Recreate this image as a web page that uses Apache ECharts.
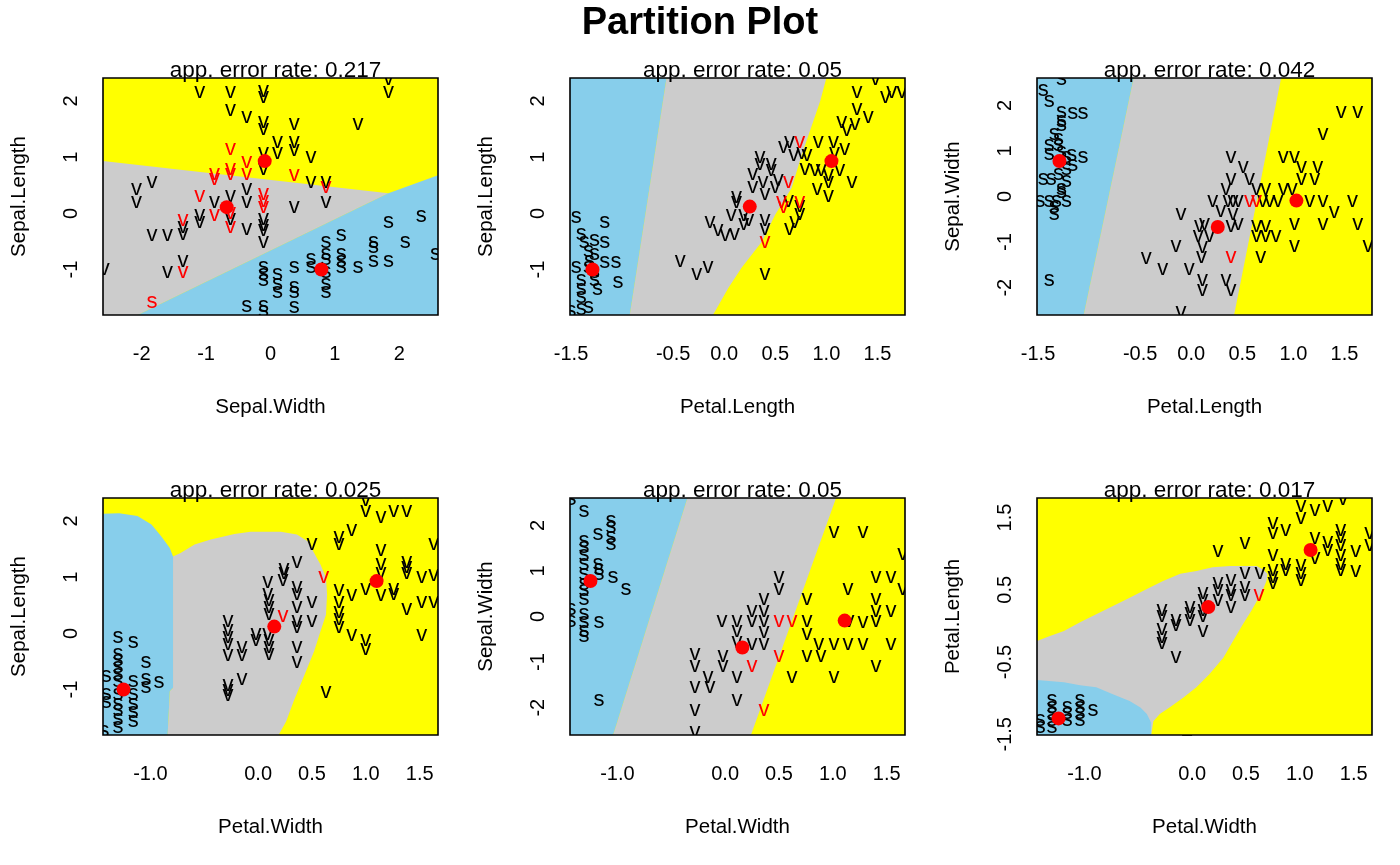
<!DOCTYPE html>
<html><head><meta charset="utf-8">
<script src="https://cdn.jsdelivr.net/npm/echarts@6/dist/echarts.min.js"></script>
<style>html,body{margin:0;padding:0;background:#fff}#c{width:1400px;height:865px}</style>
</head><body><div id="c"></div><script>
// ---------- tick labels ----------
const swTicks=[-2,-1,0,1,2], swLabels=['-2','-1','0','1','2'];
const slTicks=[-1,0,1,2], slLabels=['-1','0','1','2'];
const plTicks=[-1.5,-1,-0.5,0,0.5,1,1.5];
const plLabelsX=['-1.5','','-0.5','0.0','0.5','1.0','1.5'];
const plLabelsY=['-1.5','','-0.5','','0.5','','1.5'];
const pwTicks=[-1,-0.5,0,0.5,1,1.5], pwLabels=['-1.0','','0.0','0.5','1.0','1.5'];
const errorRates=['0.217','0.05','0.042','0.025','0.05','0.017'];

// ---------- panel 1: Sepal.Width x Sepal.Length ----------
const p1V=[[-1.10,2.14],[-0.62,2.14],[-0.11,2.17],[-0.11,2.06],[1.83,2.38],[1.83,2.14],[-0.62,1.82],[-0.37,1.70],[-0.11,1.61],[-0.11,1.49],[0.37,1.58],[1.36,1.58],[0.11,1.25],[0.11,1.05],[0.37,1.25],[0.37,1.11],[0.63,0.99],[-0.11,0.78],[-0.11,1.05],[0.63,0.54],[0.86,0.54],[0.86,0.18],[0.37,0.10],[-2.08,0.42],[-2.08,0.18],[-1.84,0.54],[-0.87,0.18],[-0.62,0.30],[-0.62,-0.11],[-0.37,0.42],[-0.37,0.18],[-0.37,-0.29],[-0.11,-0.11],[-0.11,-0.23],[-0.11,-0.32],[-0.11,-0.53],[-1.10,-0.05],[-1.10,-0.17],[-1.36,-0.26],[-1.36,-0.38],[-1.84,-0.41],[-1.60,-0.41],[-1.36,-0.86],[-1.60,-1.06],[-2.58,-1.00]];
const p1VErr=[[-0.62,1.13],[-0.37,0.90],[-0.62,0.78],[-0.62,0.69],[-0.87,0.69],[-0.87,0.60],[-0.37,0.69],[0.37,0.66],[0.86,0.45],[-1.10,0.30],[-0.11,0.33],[-0.11,0.21],[-0.11,0.10],[-0.87,-0.05],[-0.62,-0.01],[-0.62,-0.26],[-1.36,-0.14],[-1.36,-1.06]];
const p1S=[[1.83,-0.17],[2.34,-0.07],[1.10,-0.41],[0.86,-0.53],[0.86,-0.74],[0.86,-0.83],[0.63,-0.83],[1.10,-0.74],[1.10,-0.86],[1.60,-0.53],[1.60,-0.62],[1.60,-0.86],[1.83,-0.86],[2.09,-0.53],[2.56,-0.74],[-0.11,-0.97],[-0.11,-1.09],[-0.11,-1.21],[0.11,-1.09],[0.11,-1.27],[0.11,-1.42],[0.37,-0.97],[0.37,-1.33],[0.37,-1.42],[0.37,-1.69],[0.63,-0.97],[0.86,-1.06],[0.86,-1.27],[0.86,-1.42],[1.10,-0.97],[1.36,-0.97],[-0.37,-1.66],[-0.11,-1.66],[-0.11,-1.75]];
const p1SErr=[[-1.84,-1.60]];
const p1Means=[[-0.09,0.93],[-0.68,0.11],[0.79,-1.00]];
const p1Gray=[[-2.6,0.93],[1.83,0.36],[-2.06,-1.81],[-2.6,-1.81]];
const p1Blue=[[-2.06,-1.81],[1.83,0.36],[2.6,0.68],[2.6,-1.81]];

// ---------- panel 2: Petal.Length x Sepal.Length ----------
const p2S=[[-1.45,-0.08],[-1.17,-0.17],[-1.40,-0.38],[-1.37,-0.53],[-1.27,-0.50],[-1.17,-0.53],[-1.33,-0.68],[-1.27,-0.74],[-1.32,-0.86],[-1.45,-0.97],[-1.33,-0.97],[-1.17,-0.89],[-1.06,-0.89],[-1.27,-1.06],[-1.40,-1.21],[-1.27,-1.21],[-1.04,-1.24],[-1.40,-1.36],[-1.24,-1.36],[-1.40,-1.51],[-1.33,-1.69],[-1.40,-1.72],[-1.50,-1.75]];
const p2V=[[-0.43,-0.86],[-0.27,-1.09],[-0.16,-0.97],[-0.14,-0.17],[-0.06,-0.32],[0.01,-0.41],[0.07,-0.05],[0.10,-0.38],[0.19,-0.05],[0.19,-0.20],[0.24,-0.14],[0.12,0.27],[0.12,0.18],[0.28,0.69],[0.28,0.45],[0.35,0.99],[0.35,0.87],[0.38,0.54],[0.40,0.33],[0.46,0.87],[0.46,0.75],[0.50,0.45],[0.53,0.57],[0.58,1.16],[0.64,1.25],[0.68,1.02],[0.40,-0.14],[0.40,-0.29],[0.40,-1.09],[0.81,1.02],[0.79,0.78],[0.92,1.25],[0.89,0.75],[0.91,0.42],[0.95,0.75],[1.02,0.66],[1.02,0.54],[1.02,0.30],[1.07,1.25],[1.08,1.05],[1.13,0.75],[1.18,1.13],[1.25,0.54],[1.15,1.61],[1.20,1.46],[1.28,1.58],[1.41,1.70],[1.30,1.85],[1.30,2.14],[1.48,2.38],[1.58,2.06],[1.64,2.14],[1.74,2.14],[0.63,0.21],[0.64,-0.29],[0.69,-0.17],[0.74,-0.02],[0.74,0.12],[0.76,1.05]];
const p2VErr=[[0.74,1.25],[0.63,0.54],[0.56,0.18],[0.58,0.10],[0.74,0.18],[0.40,-0.53]];
const p2SErr=[];
const p2Means=[[-1.29,-1.00],[0.25,0.12],[1.05,0.93]];
const p2Blue=[[-1.51,2.41],[-0.565,2.41],[-0.925,-1.81],[-1.51,-1.81]];
const p2Gray=[[-0.565,2.41],[1.00,2.41],[0.94,2.0],[0.76,1.05],[0.66,0.45],[0.50,-0.02],[0.37,-0.50],[0.17,-0.97],[0.04,-1.33],[-0.11,-1.81],[-0.925,-1.81]];

// ---------- panel 3: Petal.Length x Sepal.Width ----------
const p3S=[[-1.27,2.56],[-1.45,2.32],[-1.39,2.08],[-1.27,1.83],[-1.16,1.81],[-1.06,1.81],[-1.27,1.64],[-1.27,1.54],[-1.34,1.35],[-1.30,1.24],[-1.39,1.10],[-1.30,1.10],[-1.39,0.91],[-1.27,0.95],[-1.22,0.84],[-1.17,0.88],[-1.06,0.84],[-1.16,0.66],[-1.22,0.58],[-1.30,0.48],[-1.45,0.37],[-1.37,0.37],[-1.22,0.33],[-1.27,0.15],[-1.27,0.07],[-1.48,-0.11],[-1.39,-0.11],[-1.32,-0.11],[-1.22,-0.11],[-1.34,-0.26],[-1.34,-0.40],[-1.39,-1.86]];
const p3V=[[-0.10,-2.56],[-0.44,-1.37],[-0.28,-1.61],[-0.02,-1.61],[0.10,-1.35],[0.11,-1.13],[0.11,-1.86],[0.11,-2.08],[0.34,-1.86],[0.39,-2.08],[-0.15,-1.10],[-0.10,-0.40],[0.08,-0.66],[0.13,-0.62],[0.07,-0.88],[0.18,-0.88],[0.21,-0.11],[0.29,-0.33],[0.36,-0.11],[0.41,-0.11],[0.46,-0.11],[0.41,-0.40],[0.39,-0.66],[0.46,-0.62],[0.34,0.15],[0.39,0.37],[0.39,0.84],[0.51,0.62],[0.57,0.37],[0.64,0.15],[0.68,-1.35],[0.73,0.15],[0.64,-0.66],[0.73,-0.66],[0.64,-0.88],[0.73,-0.88],[0.83,-0.88],[0.70,-0.11],[0.77,-0.11],[0.85,-0.11],[0.90,0.84],[1.01,0.84],[0.90,0.15],[0.99,0.15],[1.08,0.62],[1.08,0.37],[1.24,0.62],[1.21,0.37],[1.16,-0.11],[1.29,-0.11],[1.58,-0.11],[1.40,-0.37],[1.01,-0.62],[1.29,-0.62],[1.63,-0.62],[1.01,-1.10],[1.73,-1.10],[1.29,1.35],[1.47,1.83],[1.63,1.83]];
const p3VErr=[[0.57,-0.11],[0.64,-0.11],[0.39,-1.35]];
const p3SErr=[];
const p3Means=[[-1.29,0.78],[0.26,-0.67],[1.03,-0.09]];
const p3Blue=[[-1.51,2.6],[-0.564,2.6],[-1.053,-2.6],[-1.51,-2.6]];
const p3Gray=[[-0.564,2.6],[0.88,2.6],[0.42,-2.6],[-1.053,-2.6]];

// ---------- panel 4: Petal.Width x Sepal.Length ----------
const p4S=[[-1.30,-0.08],[-1.16,-0.17],[-1.30,-0.38],[-1.30,-0.50],[-1.04,-0.53],[-1.30,-0.62],[-1.41,-0.77],[-1.30,-0.74],[-1.30,-0.86],[-1.16,-0.86],[-1.04,-0.83],[-1.04,-0.97],[-0.92,-0.89],[-1.41,-1.09],[-1.30,-1.09],[-1.16,-1.09],[-1.41,-1.24],[-1.30,-1.27],[-1.16,-1.27],[-1.30,-1.39],[-1.16,-1.42],[-1.30,-1.54],[-1.16,-1.57],[-1.30,-1.69],[-1.43,-1.75]];
const p4V=[[-0.28,0.21],[-0.28,0.04],[-0.28,-0.08],[-0.28,-0.20],[-0.28,-0.41],[-0.15,-0.26],[-0.15,-0.41],[-0.02,-0.02],[-0.02,-0.14],[0.09,0.90],[0.09,0.69],[0.10,0.57],[0.10,0.45],[0.10,0.33],[0.09,-0.02],[0.10,-0.14],[0.10,-0.26],[0.10,-0.38],[0.24,1.13],[0.24,1.05],[0.23,0.93],[0.36,1.25],[0.36,0.81],[0.36,0.69],[0.36,0.45],[0.36,0.21],[0.36,0.10],[0.36,-0.26],[0.36,-0.53],[0.50,0.54],[0.50,0.21],[-0.15,-0.83],[-0.28,-0.94],[-0.28,-1.03],[-0.28,-1.12],[0.63,-1.06],[0.50,1.58],[0.75,1.70],[0.75,1.58],[0.87,1.82],[1.00,2.35],[1.00,2.17],[1.14,2.06],[1.26,2.17],[1.38,2.17],[0.75,0.75],[0.75,0.54],[0.75,0.36],[0.75,0.24],[0.75,0.10],[0.87,0.66],[1.00,0.78],[1.14,1.46],[1.14,1.22],[1.14,1.05],[1.14,0.66],[1.26,0.78],[1.26,0.69],[1.38,1.25],[1.38,1.16],[1.38,1.05],[1.52,0.99],[1.63,1.02],[1.63,1.58],[1.38,0.42],[1.52,0.54],[1.63,0.54],[0.87,-0.05],[1.00,-0.14],[1.00,-0.29],[1.52,-0.05]];
const p4VErr=[[0.23,0.30],[0.61,0.99]];
const p4SErr=[];
const p4Means=[[-1.25,-1.00],[0.15,0.12],[1.10,0.93]];
const p4Blue=[[-1.44,2.13],[-1.29,2.14],[-1.12,2.09],[-0.99,1.94],[-0.90,1.73],[-0.82,1.52],[-0.79,1.37],[-0.79,-0.97],[-0.82,-1.03],[-0.84,-1.81],[-1.44,-1.81]];
const p4Gray=[[-0.79,1.37],[-0.72,1.43],[-0.59,1.58],[-0.44,1.67],[-0.22,1.77],[-0.07,1.81],[0.21,1.81],[0.36,1.76],[0.46,1.64],[0.52,1.43],[0.58,1.22],[0.63,0.99],[0.64,0.69],[0.63,0.33],[0.58,0.04],[0.52,-0.32],[0.43,-0.74],[0.33,-1.21],[0.26,-1.57],[0.19,-1.81],[-0.84,-1.81],[-0.82,-1.03],[-0.79,-0.97]];

// ---------- panel 5: Petal.Width x Sepal.Width ----------
const p5S=[[-1.43,2.56],[-1.31,2.30],[-1.06,2.08],[-1.06,1.94],[-1.06,1.72],[-1.06,1.57],[-1.18,1.79],[-1.31,1.64],[-1.31,1.50],[-1.31,1.32],[-1.18,1.13],[-1.31,1.13],[-1.17,1.02],[-1.31,0.91],[-1.17,0.91],[-1.04,0.84],[-1.31,0.69],[-1.31,0.55],[-1.31,0.37],[-0.92,0.58],[-1.43,0.15],[-1.43,-0.11],[-1.31,0.04],[-1.31,-0.15],[-1.31,-0.33],[-1.31,-0.44],[-1.17,-0.15],[-1.17,-1.86]];
const p5V=[[-0.28,-0.84],[-0.28,-1.10],[-0.28,-1.57],[-0.28,-2.08],[-0.28,-2.56],[-0.16,-1.35],[-0.14,-1.57],[-0.02,-0.88],[-0.02,-1.10],[0.11,-1.35],[0.11,-1.86],[-0.03,-0.11],[0.11,-0.11],[0.11,-0.33],[0.11,-0.58],[0.25,0.11],[0.25,-0.11],[0.25,-0.62],[0.36,0.37],[0.36,0.11],[0.36,-0.11],[0.36,-0.37],[0.36,-0.62],[0.50,0.84],[0.50,0.58],[0.76,0.37],[0.76,-0.11],[0.76,-0.40],[0.76,-0.88],[0.87,-0.62],[0.89,-0.88],[1.01,-0.62],[1.01,-1.35],[0.62,-1.35],[1.01,1.83],[1.28,1.83],[1.65,1.35],[1.40,0.84],[1.54,0.84],[1.14,0.58],[1.65,0.58],[1.40,0.37],[1.40,0.11],[1.54,0.11],[1.15,-0.11],[1.28,-0.15],[1.40,-0.11],[1.14,-0.62],[1.28,-0.62],[1.54,-0.62],[1.40,-1.10]];
const p5VErr=[[0.50,-0.11],[0.62,-0.11],[0.50,-0.88],[0.25,-1.10],[0.36,-2.08]];
const p5SErr=[];
const p5Means=[[-1.25,0.78],[0.16,-0.68],[1.11,-0.09]];
const p5Blue=[[-1.45,2.6],[-0.35,2.6],[-1.04,-2.6],[-1.45,-2.6]];
const p5Gray=[[-0.35,2.6],[1.03,2.6],[0.24,-2.6],[-1.04,-2.6]];

// ---------- panel 6: Petal.Width x Petal.Length ----------
const p6S=[[-1.30,-1.04],[-1.30,-1.13],[-1.30,-1.22],[-1.30,-1.32],[-1.30,-1.41],[-1.41,-1.32],[-1.41,-1.41],[-1.16,-1.13],[-1.16,-1.22],[-1.16,-1.32],[-1.04,-1.04],[-1.04,-1.13],[-1.04,-1.22],[-1.04,-1.32],[-0.92,-1.18]];
const p6V=[[-0.28,0.21],[-0.28,0.12],[-0.28,-0.05],[-0.28,-0.16],[-0.28,-0.25],[-0.15,0.07],[-0.15,0.00],[-0.15,-0.44],[-0.02,0.25],[-0.02,0.16],[-0.02,0.07],[0.10,0.44],[0.10,0.35],[0.10,0.21],[0.10,0.12],[0.10,-0.09],[0.24,0.58],[0.24,0.48],[0.24,0.35],[0.36,0.62],[0.36,0.48],[0.36,0.42],[0.36,0.25],[0.49,0.72],[0.49,0.53],[0.49,0.42],[0.63,0.72],[0.24,1.02],[0.49,1.13],[0.75,1.41],[0.75,1.27],[0.75,0.97],[0.75,0.76],[0.75,0.67],[0.75,0.58],[0.87,1.32],[0.87,0.85],[0.87,0.76],[1.01,1.64],[1.01,1.48],[1.14,1.59],[1.26,1.64],[1.40,1.75],[1.01,0.83],[1.01,0.72],[1.01,0.62],[1.14,1.20],[1.14,0.92],[1.26,1.15],[1.26,1.04],[1.38,1.32],[1.38,1.22],[1.38,1.11],[1.38,0.97],[1.38,0.85],[1.38,0.76],[1.52,1.02],[1.52,0.74],[1.65,1.27],[1.65,1.11]];
const p6VErr=[[0.62,0.42]];
const p6SErr=[];
const p6Means=[[-1.24,-1.28],[0.15,0.26],[1.10,1.05]];
const p6Gray=[[-1.44,-0.21],[-1.32,-0.14],[-1.19,-0.07],[-1.04,0.05],[-0.89,0.16],[-0.73,0.28],[-0.58,0.39],[-0.42,0.51],[-0.27,0.62],[-0.11,0.72],[0.04,0.76],[0.19,0.81],[0.35,0.83],[0.60,0.83],[0.66,0.78],[0.70,0.72],[0.69,0.62],[0.66,0.51],[0.61,0.37],[0.55,0.21],[0.47,0.02],[0.38,-0.21],[0.29,-0.44],[0.16,-0.67],[0.04,-0.85],[-0.08,-0.99],[-0.21,-1.13],[-0.30,-1.22],[-0.36,-1.32],[-0.38,-1.51],[-1.44,-1.51]];
const p6Blue=[[-1.44,-0.75],[-1.19,-0.78],[-1.04,-0.82],[-0.89,-0.85],[-0.73,-0.95],[-0.58,-1.04],[-0.48,-1.13],[-0.42,-1.22],[-0.38,-1.34],[-0.38,-1.51],[-1.44,-1.51]];

// ---------- rendering ----------
const FONT='"Liberation Sans", Arial, Helvetica, sans-serif';
const YELLOW='#FFFF00', GRAY='#CCCCCC', BLUE='#87CEEB', RED='#FF0000';
const AX={
  SW:{min:-2.6,max:2.6,ticks:swTicks,labels:swLabels,name:'Sepal.Width'},
  SL:{min:-1.81,max:2.41,ticks:slTicks,labels:slLabels,name:'Sepal.Length'},
  PLx:{min:-1.51,max:1.77,ticks:plTicks,labels:plLabelsX,name:'Petal.Length'},
  PLy:{min:-1.51,max:1.77,ticks:plTicks,labels:plLabelsY,name:'Petal.Length'},
  PW:{min:-1.44,max:1.67,ticks:pwTicks,labels:pwLabels,name:'Petal.Width'}
};
const panels=[
  {x:'SW',y:'SL',v:p1V,ve:p1VErr,s:p1S,se:p1SErr,m:p1Means,gray:p1Gray,blue:p1Blue},
  {x:'PLx',y:'SL',v:p2V,ve:p2VErr,s:p2S,se:p2SErr,m:p2Means,gray:p2Gray,blue:p2Blue},
  {x:'PLx',y:'SW',v:p3V,ve:p3VErr,s:p3S,se:p3SErr,m:p3Means,gray:p3Gray,blue:p3Blue},
  {x:'PW',y:'SL',v:p4V,ve:p4VErr,s:p4S,se:p4SErr,m:p4Means,gray:p4Gray,blue:p4Blue},
  {x:'PW',y:'SW',v:p5V,ve:p5VErr,s:p5S,se:p5SErr,m:p5Means,gray:p5Gray,blue:p5Blue},
  {x:'PW',y:'PLy',v:p6V,ve:p6VErr,s:p6S,se:p6SErr,m:p6Means,gray:p6Gray,blue:p6Blue}
];
const lefts=[103,570,1037], tops=[78,498], W=335, H=237;
function lab(A,v){const i=A.ticks.findIndex(t=>Math.abs(t-v)<1e-6);return i<0?'':A.labels[i];}

const option={animation:false,backgroundColor:'#fff',title:[],grid:[],xAxis:[],yAxis:[],series:[]};
option.title.push({text:'Partition Plot',left:'center',top:0,textStyle:{fontSize:38,fontWeight:'bold',color:'#000',fontFamily:FONT}});

panels.forEach((p,i)=>{
  const col=i%3,row=Math.floor(i/3),left=lefts[col],top=tops[row];
  const X=AX[p.x],Y=AX[p.y];
  option.grid.push({left:left,top:top,width:W,height:H,show:true,borderColor:'#000',borderWidth:1.6,backgroundColor:'transparent',z:5});
  option.title.push({text:'app. error rate: '+errorRates[i],left:left+W/2,textAlign:'center',top:top-24,
    textStyle:{fontSize:22.5,fontWeight:'normal',color:'#000',fontFamily:FONT}});
  option.xAxis.push({type:'value',gridIndex:i,min:X.min,max:X.max,name:X.name,nameLocation:'middle',nameGap:82,
    nameTextStyle:{fontSize:20.5,color:'#000',fontFamily:FONT},
    axisLine:{show:false},splitLine:{show:false},
    axisTick:{show:true,length:10,customValues:X.ticks,lineStyle:{color:'#000',width:1.5}},
    axisLabel:{customValues:X.ticks,formatter:v=>lab(X,v),margin:29,fontSize:20,color:'#000',fontFamily:FONT}});
  option.yAxis.push({type:'value',gridIndex:i,min:Y.min,max:Y.max,name:Y.name,nameLocation:'middle',nameGap:73,
    nameTextStyle:{fontSize:20.5,color:'#000',fontFamily:FONT},
    axisLine:{show:false},splitLine:{show:false},
    axisTick:{show:true,length:10,customValues:Y.ticks,lineStyle:{color:'#000',width:1.5}},
    axisLabel:{customValues:Y.ticks,formatter:v=>lab(Y,v),rotate:90,margin:22,fontSize:20,color:'#000',fontFamily:FONT}});
  // partition regions
  option.series.push({type:'custom',xAxisIndex:i,yAxisIndex:i,clip:true,silent:true,z:1,
    data:[[X.min,Y.min]],
    renderItem:(params,api)=>{
      const poly=(pts,fill)=>({type:'polygon',shape:{points:pts.map(q=>api.coord(q))},style:{fill:fill}});
      return {type:'group',children:[
        poly([[X.min,Y.min],[X.max,Y.min],[X.max,Y.max],[X.min,Y.max]],YELLOW),
        poly(p.gray,GRAY),poly(p.blue,BLUE)]};
    }});
  // letters
  const letters=[].concat(
    p.s.map(d=>[d[0],d[1],'s',0]),p.v.map(d=>[d[0],d[1],'v',0]),
    p.se.map(d=>[d[0],d[1],'s',1]),p.ve.map(d=>[d[0],d[1],'v',1]));
  option.series.push({type:'custom',xAxisIndex:i,yAxisIndex:i,clip:true,silent:true,z:6,
    data:letters.map(d=>[d[0],d[1]]),
    renderItem:(params,api)=>{
      const d=letters[params.dataIndex];
      const c=api.coord([d[0],d[1]]);
      return {type:'text',x:c[0],y:c[1]-1,style:{text:d[2],fill:d[3]?RED:'#000',
        font:'22px '+FONT,textAlign:'center',textVerticalAlign:'middle',align:'center',verticalAlign:'middle'}};
    }});
  // class means
  option.series.push({type:'scatter',xAxisIndex:i,yAxisIndex:i,z:7,silent:true,
    data:p.m,symbol:'circle',symbolSize:14,itemStyle:{color:RED,opacity:1}});
});

const chart=echarts.init(document.getElementById('c'),null,{renderer:'canvas'});
chart.setOption(option);
</script></body></html>
